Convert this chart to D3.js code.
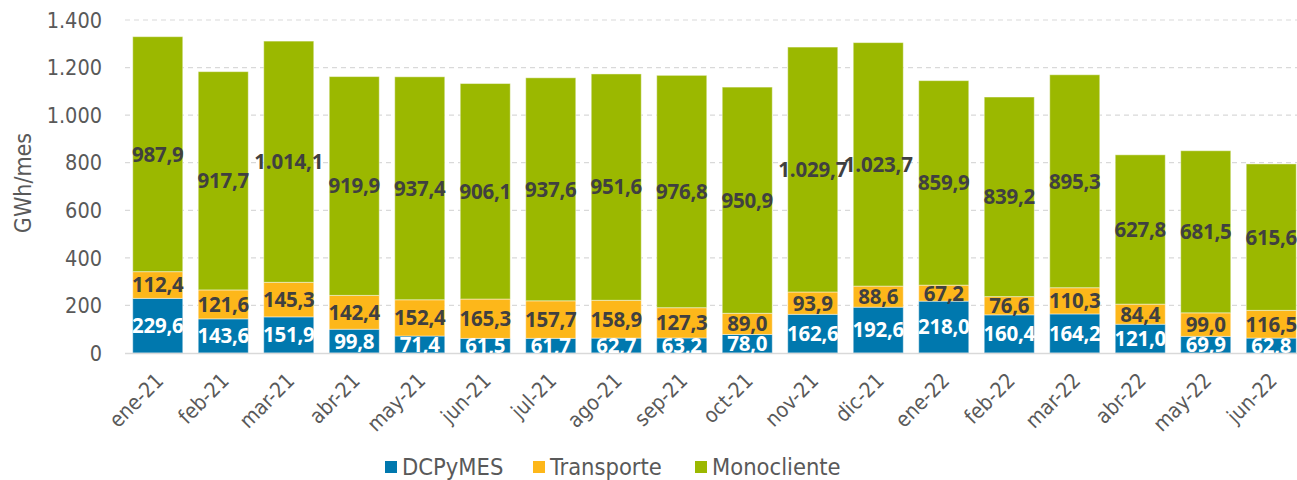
<!DOCTYPE html>
<html>
<head>
<meta charset="utf-8">
<script src="https://cdn.jsdelivr.net/npm/d3@7"></script>
<style>
  body { margin: 0; background: #fff; }
  svg { display: block; }
  .cond { font-family: 'DejaVu Sans Condensed', 'DejaVu Sans', sans-serif; font-stretch: condensed; }
</style>
</head>
<body>
<div id="chart"></div>
<script>
const months = ['ene-21', 'feb-21', 'mar-21', 'abr-21', 'may-21', 'jun-21', 'jul-21', 'ago-21', 'sep-21',
  'oct-21', 'nov-21', 'dic-21', 'ene-22', 'feb-22', 'mar-22', 'abr-22', 'may-22', 'jun-22']
const dcpymes = [229.6, 143.6, 151.9, 99.8, 71.4, 61.5, 61.7, 62.7, 63.2, 78.0, 162.6, 192.6, 218.0, 160.4, 164.2, 121.0, 69.9, 62.8]
const transporte = [112.4, 121.6, 145.3, 142.4, 152.4, 165.3, 157.7, 158.9, 127.3, 89.0, 93.9, 88.6, 67.2, 76.6, 110.3, 84.4, 99.0, 116.5]
const monocliente = [987.9, 917.7, 1014.1, 919.9, 937.4, 906.1, 937.6, 951.6, 976.8, 950.9, 1029.7, 1023.7, 859.9, 839.2, 895.3, 627.8, 681.5, 615.6]
const yTicks = [0, 200, 400, 600, 800, 1000, 1200, 1400]

const seriesNames = ['DCPyMES', 'Transporte', 'Monocliente']
const colors = { DCPyMES: '#0078ae', Transporte: '#fdb71a', Monocliente: '#9bb800' }
const labelColors = { DCPyMES: '#ffffff', Transporte: '#404040', Monocliente: '#404040' }

const width = 1297
const height = 480
const margin = { top: 20, left: 125, bottom: 353 }

const locale = d3.formatLocale({ decimal: ',', thousands: '.', grouping: [3], currency: ['', ''] })
const fmtVal = locale.format(',.1f')
const fmtTick = locale.format(',.0f')

const rows = months.map((m, i) => ({
  month: m,
  DCPyMES: dcpymes[i],
  Transporte: transporte[i],
  Monocliente: monocliente[i]
}))
const stacked = d3.stack().keys(seriesNames)(rows)

const svg = d3.select('#chart')
  .append('svg')
  .attr('width', width)
  .attr('height', height)

const xScale = d3.scaleBand()
  .domain(months)
  .range([margin.left, margin.left + 18 * 65.5])
  .paddingInner(0.236)
  .paddingOuter(0.118)

const yScale = d3.scaleLinear()
  .domain([0, 1400])
  .range([margin.bottom, margin.top])

// gridlines
svg.append('g')
  .selectAll('line')
  .data(yTicks.filter(d => d > 0))
  .enter().append('line')
  .attr('x1', margin.left)
  .attr('x2', width)
  .attr('y1', d => yScale(d))
  .attr('y2', d => yScale(d))
  .attr('stroke', '#d9d9d9')
  .attr('stroke-width', 1.2)
  .attr('stroke-dasharray', '5 4')

// y tick labels
svg.append('g')
  .selectAll('text')
  .data(yTicks)
  .enter().append('text')
  .attr('class', 'cond')
  .attr('x', 102)
  .attr('y', d => yScale(d))
  .attr('dy', '0.36em')
  .attr('text-anchor', 'end')
  .attr('font-size', '21.5px')
  .attr('fill', '#595959')
  .text(d => fmtTick(d))

svg.append('text')
  .attr('class', 'cond')
  .attr('transform', `translate(31, 183) rotate(-90)`)
  .attr('text-anchor', 'middle')
  .attr('font-size', '23px')
  .attr('fill', '#595959')
  .text('GWh/mes')

// bars
const layers = svg.append('g')
  .selectAll('g')
  .data(stacked)
  .enter().append('g')
  .attr('fill', d => colors[d.key])

layers.selectAll('rect')
  .data(d => d)
  .enter().append('rect')
  .attr('x', d => xScale(d.data.month))
  .attr('y', d => yScale(d[1]))
  .attr('width', xScale.bandwidth())
  .attr('height', d => yScale(d[0]) - yScale(d[1]))
  .attr('stroke', 'rgba(255,255,255,0.45)')
  .attr('stroke-width', 1)

// axis line
svg.append('line')
  .attr('x1', margin.left)
  .attr('x2', width)
  .attr('y1', yScale(0) + 0.5)
  .attr('y2', yScale(0) + 0.5)
  .attr('stroke', '#d9d9d9')
  .attr('stroke-width', 1.5)

// data labels, clipped to the plot area
svg.append('clipPath')
  .attr('id', 'plot-clip')
  .append('rect')
  .attr('x', 0)
  .attr('y', 0)
  .attr('width', width)
  .attr('height', margin.bottom)

const labels = svg.append('g')
  .attr('clip-path', 'url(#plot-clip)')

stacked.forEach(layer => {
  labels.selectAll(`.lbl-${layer.key}`)
    .data(layer)
    .enter().append('text')
    .attr('class', `lbl-${layer.key}`)
    .attr('x', d => xScale(d.data.month) + xScale.bandwidth() / 2)
    .attr('y', d => (yScale(d[0]) + yScale(d[1])) / 2)
    .attr('dy', '0.36em')
    .attr('text-anchor', 'middle')
    .attr('font-family', 'Open Sans, sans-serif')
    .attr('font-weight', 'bold')
    .attr('font-size', '20.5px')
    .attr('letter-spacing', '-0.2px')
    .attr('fill', labelColors[layer.key])
    .text(d => fmtVal(d.data[layer.key]))
})

// x labels
svg.append('g')
  .selectAll('text')
  .data(months)
  .enter().append('text')
  .attr('class', 'cond')
  .attr('transform', d => `translate(${xScale(d) + xScale.bandwidth() / 2 + 7}, 382) rotate(-45)`)
  .attr('text-anchor', 'end')
  .attr('font-size', '21px')
  .attr('fill', '#595959')
  .text(d => d)

// legend
const legendPos = { DCPyMES: 385, Transporte: 533, Monocliente: 695 }
const legend = svg.append('g')
legend.selectAll('rect')
  .data(seriesNames)
  .enter().append('rect')
  .attr('x', d => legendPos[d])
  .attr('y', 461)
  .attr('width', 12)
  .attr('height', 12)
  .attr('fill', d => colors[d])

legend.selectAll('text')
  .data(seriesNames)
  .enter().append('text')
  .attr('class', 'cond')
  .attr('x', d => legendPos[d] + 17)
  .attr('y', 467)
  .attr('dy', '0.36em')
  .attr('font-size', '23.5px')
  .attr('fill', '#595959')
  .text(d => d)
</script>
</body>
</html>
